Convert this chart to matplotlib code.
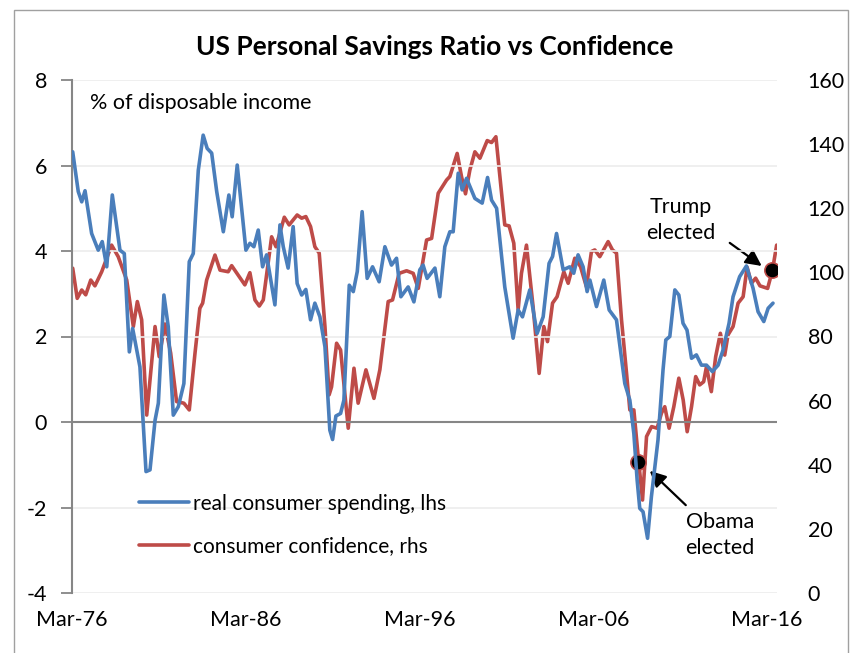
import matplotlib
matplotlib.use("Agg")
import matplotlib.pyplot as plt
from matplotlib.patches import Rectangle

plt.rcParams['font.family'] = ['Lato', 'DejaVu Sans']

# Real consumer spending (% of disposable income), left axis
spend_year = [
    1976.21, 1976.53, 1976.73, 1976.92, 1977.30, 1977.68, 1977.91, 1978.17, 1978.49, 1978.93,
    1979.18, 1979.47, 1979.66, 1980.08, 1980.43, 1980.66, 1980.95, 1981.14, 1981.46, 1981.71,
    1982.00, 1982.29, 1982.61, 1982.92, 1983.15, 1983.44, 1983.72, 1983.95, 1984.21, 1984.50,
    1984.88, 1985.20, 1985.39, 1985.68, 1986.18, 1986.41, 1986.64, 1986.89, 1987.14, 1987.37,
    1987.85, 1988.14, 1988.33, 1988.61, 1988.90, 1989.13, 1989.39, 1989.63, 1989.90, 1990.15,
    1990.44, 1990.73, 1991.01, 1991.17, 1991.36, 1991.63, 1991.82, 1992.13, 1992.36, 1992.59,
    1992.87, 1993.16, 1993.47, 1993.85, 1994.18, 1994.56, 1994.85, 1995.10, 1995.52, 1995.85,
    1996.19, 1996.38, 1996.61, 1997.06, 1997.34, 1997.63, 1997.92, 1998.11, 1998.40, 1998.63,
    1998.88, 1999.36, 1999.78, 2000.09, 2000.32, 2000.61, 2001.08, 2001.56, 2001.85, 2002.10,
    2002.52, 2002.94, 2003.29, 2003.63, 2003.83, 2004.06, 2004.44, 2004.82, 2005.05, 2005.30,
    2005.59, 2005.82, 2005.98, 2006.36, 2006.78, 2007.09, 2007.51, 2007.99, 2008.28, 2008.51,
    2008.70, 2008.85, 2009.04, 2009.30, 2009.52, 2009.90, 2010.19, 2010.35, 2010.58, 2010.87,
    2011.10, 2011.34, 2011.57, 2011.83, 2012.11, 2012.40, 2012.69, 2013.03, 2013.36, 2013.64,
    2013.99, 2014.22, 2014.60, 2014.99, 2015.37, 2015.66, 2015.99, 2016.24, 2016.52,
]
spend_value = [
    6.32, 5.39, 5.15, 5.41, 4.41, 4.02, 4.22, 3.63, 5.31, 4.02,
    3.94, 1.64, 2.19, 1.29, -1.16, -1.12, 0.04, 0.44, 2.97, 2.23,
    0.16, 0.36, 0.90, 3.75, 3.94, 5.89, 6.71, 6.40, 6.29, 5.39,
    4.45, 5.31, 4.80, 6.01, 4.02, 4.18, 4.10, 4.49, 3.63, 3.91,
    2.74, 4.61, 4.10, 3.60, 4.57, 3.24, 2.97, 3.10, 2.39, 2.78,
    2.46, 1.76, -0.19, -0.41, 0.14, 0.20, 0.51, 3.20, 3.05, 3.52,
    4.92, 3.36, 3.63, 3.28, 4.10, 3.67, 3.83, 2.93, 3.16, 2.81,
    3.56, 3.67, 3.36, 3.60, 2.93, 4.10, 4.45, 4.45, 5.82, 5.43,
    5.70, 5.23, 5.12, 5.72, 5.19, 5.00, 3.16, 1.96, 2.62, 2.46,
    3.09, 2.07, 2.46, 3.71, 3.87, 4.41, 3.56, 3.63, 3.48, 3.91,
    3.63, 3.05, 3.32, 2.70, 3.32, 2.62, 2.39, 0.90, 0.51, -0.27,
    -1.36, -2.02, -2.10, -2.72, -1.75, -0.42, 1.22, 1.92, 2.00, 3.09,
    2.97, 2.31, 2.15, 1.49, 1.57, 1.33, 1.33, 1.18, 1.33, 1.68,
    2.31, 2.93, 3.40, 3.65, 3.13, 2.58, 2.35, 2.66, 2.78,
]

# Consumer confidence index, right axis
conf_year = [
    1976.21, 1976.47, 1976.73, 1976.96, 1977.25, 1977.49, 1977.88, 1978.45, 1978.83, 1979.32,
    1979.70, 1979.93, 1980.18, 1980.47, 1980.95, 1981.19, 1981.52, 1981.85, 1982.19, 1982.61,
    1982.92, 1983.25, 1983.53, 1983.69, 1983.92, 1984.40, 1984.69, 1985.16, 1985.36, 1986.12,
    1986.41, 1986.70, 1986.95, 1987.18, 1987.66, 1987.91, 1988.39, 1988.67, 1989.13, 1989.39,
    1989.63, 1989.90, 1990.15, 1990.40, 1990.73, 1990.97, 1991.11, 1991.40, 1991.63, 1992.07,
    1992.40, 1992.64, 1993.09, 1993.55, 1993.89, 1994.37, 1994.62, 1995.00, 1995.43, 1995.81,
    1996.10, 1996.58, 1996.87, 1997.25, 1997.73, 1997.92, 1998.34, 1998.59, 1998.82, 1999.07,
    1999.36, 1999.65, 2000.07, 2000.32, 2000.57, 2001.08, 2001.33, 2001.60, 2001.85, 2002.04,
    2002.33, 2002.71, 2003.06, 2003.33, 2003.54, 2003.83, 2004.09, 2004.48, 2004.73, 2005.11,
    2005.44, 2005.78, 2006.07, 2006.26, 2006.55, 2007.03, 2007.28, 2007.51, 2007.80, 2008.09,
    2008.28, 2008.51, 2008.76, 2009.01, 2009.24, 2009.53, 2009.85, 2010.10, 2010.29, 2010.54,
    2010.81, 2011.10, 2011.35, 2011.58, 2011.83, 2012.07, 2012.30, 2012.53, 2012.69, 2012.97,
    2013.22, 2013.49, 2013.74, 2013.93, 2014.22, 2014.51, 2014.80, 2015.03, 2015.28, 2015.52,
    2015.77, 2016.21, 2016.49, 2016.73,
]
conf_value = [
    101.3, 91.9, 94.5, 93.0, 97.6, 95.8, 100.2, 108.5, 104.9, 97.6,
    83.1, 90.9, 85.2, 55.5, 83.1, 73.7, 83.9, 74.8, 59.7, 59.2,
    57.1, 74.8, 88.8, 90.4, 97.6, 105.4, 100.7, 100.2, 102.1, 96.1,
    99.9, 91.4, 89.5, 91.4, 111.1, 108.0, 117.2, 114.8, 117.9, 116.9,
    117.4, 114.3, 108.0, 106.0, 83.1, 61.8, 64.3, 77.9, 75.8, 51.4,
    70.1, 59.2, 69.6, 60.7, 69.6, 90.9, 91.4, 99.7, 100.5, 99.7,
    95.0, 110.1, 110.6, 124.7, 128.8, 129.9, 137.1, 129.9, 124.5, 131.9,
    137.6, 135.6, 141.1, 140.5, 142.3, 114.8, 114.5, 109.1, 88.3, 99.7,
    108.5, 89.3, 68.5, 83.1, 78.4, 90.4, 92.4, 100.2, 96.6, 104.4,
    101.8, 95.5, 106.5, 107.0, 104.9, 109.6, 107.0, 106.0, 85.2, 68.5,
    57.1, 57.1, 42.5, 29.0, 48.8, 51.9, 51.4, 56.1, 58.1, 51.4,
    58.1, 67.0, 60.2, 50.3, 58.1, 67.5, 64.9, 65.9, 70.6, 62.8,
    73.7, 81.0, 74.2, 80.5, 83.1, 90.4, 92.4, 101.6, 96.6, 98.2,
    95.8, 95.0, 100.7, 108.5,
]

# Election markers on the confidence line
obama_point = (2008.76, 40.9)
trump_point = (2016.49, 100.7)

tick_years = [1976.17, 1986.17, 1996.17, 2006.17, 2016.17]
tick_labels = ['Mar-76', 'Mar-86', 'Mar-96', 'Mar-06', 'Mar-16']
left_ticks = [-4, -2, 0, 2, 4, 6, 8]
right_ticks = [0, 20, 40, 60, 80, 100, 120, 140, 160]

BLUE = '#4A7EBB'
RED = '#BE4B48'
AXIS_GRAY = '#868686'
GRID_GRAY = '#ECECEC'
FS = 15.5

fig = plt.figure(figsize=(8.6, 6.53), dpi=100)
fig.patches.append(Rectangle((14 / 860, -0.05), (848 - 14) / 860, 1.05 - 10 / 653,
                             transform=fig.transFigure, fill=False,
                             edgecolor='#A0A0A0', linewidth=1.0))

ax = fig.add_axes([72 / 860, 1 - 593 / 653, 705 / 860, 513 / 653])
ax2 = ax.twinx()

ax.set_xlim(1976.17, 2016.75)
ax.set_ylim(-4, 8)
ax2.set_ylim(0, 160)

# gridlines and zero line
for v in left_ticks:
    if v != 0:
        ax.axhline(v, color=GRID_GRAY, linewidth=1.2, zorder=0)
ax.axhline(0, color=AXIS_GRAY, linewidth=1.5, zorder=1)

l1, = ax.plot(spend_year, spend_value, color=BLUE, linewidth=2.6,
              solid_joinstyle='round', solid_capstyle='round', zorder=3)
l2, = ax2.plot(conf_year, conf_value, color=RED, linewidth=2.6,
               solid_joinstyle='round', solid_capstyle='round', zorder=3)

for pt in (obama_point, trump_point):
    ax2.plot(pt[0], pt[1], 'o', markersize=11, markerfacecolor='black',
             markeredgecolor=RED, markeredgewidth=1.2, zorder=5)

ax.set_zorder(ax2.get_zorder() + 1)
ax.patch.set_visible(False)

for spine in ['top', 'right', 'bottom']:
    ax.spines[spine].set_visible(False)
    ax2.spines[spine].set_visible(False)
ax2.spines['left'].set_visible(False)
ax.spines['left'].set_color(AXIS_GRAY)
ax.spines['left'].set_linewidth(1.5)

ax.set_yticks(left_ticks)
ax.set_yticklabels([str(v) for v in left_ticks])
ax.tick_params(axis='y', direction='out', length=8, width=1.3, color=AXIS_GRAY,
               labelsize=FS, pad=10)
ax2.set_yticks(right_ticks)
ax2.tick_params(axis='y', length=0, labelsize=FS, pad=22)

ax.set_xticks(tick_years)
ax.set_xticklabels(tick_labels)
ax.tick_params(axis='x', length=0, labelsize=FS, pad=12)

fig.text(435 / 860, 1 - 47 / 653, 'US Personal Savings Ratio vs Confidence',
         ha='center', va='center', fontsize=19, fontweight='bold')
fig.text(90 / 860, 1 - 103 / 653, '% of disposable income',
         ha='left', va='center', fontsize=FS)

ax.legend([l1, l2], ['real consumer spending, lhs', 'consumer confidence, rhs'],
          loc='center left', bbox_to_anchor=(120 / 860, 1 - 525 / 653),
          bbox_transform=fig.transFigure, frameon=False, fontsize=15,
          handlelength=2.4, handletextpad=0.2, labelspacing=1.1)

# Annotation labels and their arrows
ax2.text(2011.21, 116.3, 'Trump\nelected', ha='center', va='center',
         fontsize=FS, linespacing=1.35)
ax2.text(2013.45, 18.1, 'Obama\nelected', ha='center', va='center',
         fontsize=FS, linespacing=1.35)
arrow = dict(arrowstyle='-|>', color='black', lw=1.6, mutation_scale=24,
             shrinkA=0, shrinkB=0)
ax2.annotate('', xy=(2015.87, 102.0), xytext=(2014.03, 109.2), arrowprops=arrow)
ax2.annotate('', xy=(2009.43, 38.1), xytext=(2011.50, 27.4), arrowprops=arrow)

fig.savefig('out.png', dpi=100)
